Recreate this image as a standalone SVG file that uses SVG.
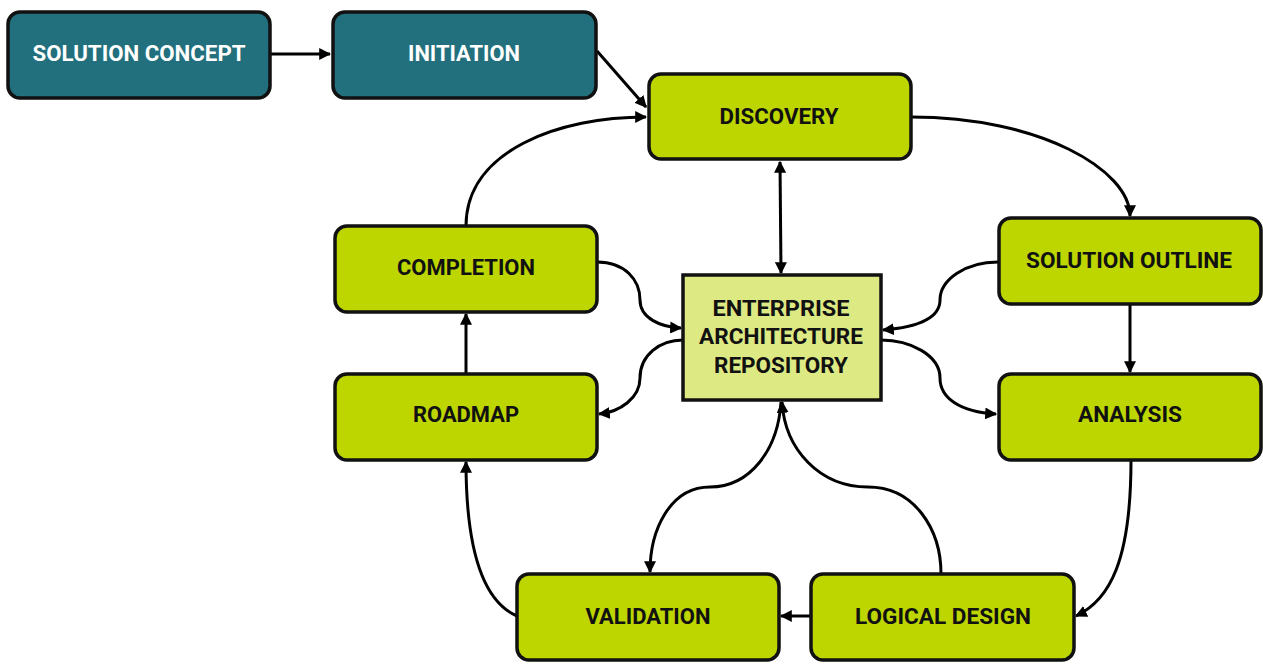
<svg xmlns="http://www.w3.org/2000/svg" width="1263" height="664" viewBox="0 0 1263 664">
<style>
.t{fill:#22707d;stroke:#111;stroke-width:3.5}
.g{fill:#bdd600;stroke:#111;stroke-width:3.5}
.r{fill:#dde982;stroke:#111;stroke-width:3.5}
text{font-family:Roboto,"Liberation Sans",sans-serif;font-weight:700;font-size:22.5px;text-anchor:middle;fill:#111}
.w{fill:#fff}
.c path{fill:none;stroke:#000;stroke-width:3}
</style>
<defs>
<marker id="a" viewBox="0 0 10 10" refX="9" refY="5" markerWidth="4" markerHeight="4" orient="auto-start-reverse"><path d="M0,0 L10,5 L0,10 z" fill="#000"/></marker>
</defs>
<g class="c">
<path d="M270,54 L330,54" marker-end="url(#a)"/>
<path d="M597,51 L646,107" marker-end="url(#a)"/>
<path d="M466,226 C466,150 560,117 646,117" marker-end="url(#a)"/>
<path d="M911,117 C1040,117 1130,170 1130,216" marker-end="url(#a)"/>
<path d="M780,162 L781,273" marker-start="url(#a)" marker-end="url(#a)"/>
<path d="M597,262 C625,262 640,280 640,300 C640,318 660,327 681,328" marker-end="url(#a)"/>
<path d="M683,340 C660,340 640,355 640,378 C640,398 620,412 599,414" marker-end="url(#a)"/>
<path d="M998,262 C965,262 940,280 940,300 C940,318 920,327 883,330" marker-end="url(#a)"/>
<path d="M881,340 C910,340 940,355 940,378 C940,398 960,412 996,414" marker-end="url(#a)"/>
<path d="M1130,304 L1130,372" marker-end="url(#a)"/>
<path d="M1131,460 C1131,560 1110,600 1076,616" marker-end="url(#a)"/>
<path d="M811,616 L781,616" marker-end="url(#a)"/>
<path d="M941,574 C941,530 915,487 868,487 C820,487 785,450 782,402" marker-end="url(#a)"/>
<path d="M781,402 C778,450 750,487 710,487 C670,487 650,530 650,572" marker-end="url(#a)"/>
<path d="M517,616 C480,600 466,540 466,462" marker-end="url(#a)"/>
<path d="M466,374 L466,314" marker-end="url(#a)"/>
</g>
<g id="solution-concept"><rect class="t" x="8" y="12" width="262" height="86" rx="12"/><text class="w" x="139" y="61" textLength="213" lengthAdjust="spacingAndGlyphs">SOLUTION CONCEPT</text></g>
<g id="initiation"><rect class="t" x="333" y="12" width="263" height="86" rx="12"/><text class="w" x="464" y="61" textLength="112" lengthAdjust="spacingAndGlyphs">INITIATION</text></g>
<g id="discovery"><rect class="g" x="649" y="74" width="262" height="85" rx="12"/><text x="779" y="124" textLength="119" lengthAdjust="spacingAndGlyphs">DISCOVERY</text></g>
<g id="solution-outline"><rect class="g" x="999" y="218" width="262" height="86" rx="12"/><text x="1129" y="268" textLength="206" lengthAdjust="spacingAndGlyphs">SOLUTION OUTLINE</text></g>
<g id="completion"><rect class="g" x="335" y="226" width="262" height="86" rx="12"/><text x="466" y="275" textLength="138" lengthAdjust="spacingAndGlyphs">COMPLETION</text></g>
<g id="repository"><rect class="r" x="683" y="275" width="198" height="125"/><text x="781" y="316" textLength="137" lengthAdjust="spacingAndGlyphs">ENTERPRISE</text><text x="781" y="344" textLength="164" lengthAdjust="spacingAndGlyphs">ARCHITECTURE</text><text x="781" y="373" textLength="134" lengthAdjust="spacingAndGlyphs">REPOSITORY</text></g>
<g id="roadmap"><rect class="g" x="335" y="374" width="262" height="86" rx="12"/><text x="466" y="422" textLength="106" lengthAdjust="spacingAndGlyphs">ROADMAP</text></g>
<g id="analysis"><rect class="g" x="999" y="374" width="262" height="86" rx="12"/><text x="1130" y="422" textLength="104" lengthAdjust="spacingAndGlyphs">ANALYSIS</text></g>
<g id="validation"><rect class="g" x="517" y="574" width="262" height="86" rx="12"/><text x="648" y="624" textLength="125" lengthAdjust="spacingAndGlyphs">VALIDATION</text></g>
<g id="logical-design"><rect class="g" x="811" y="574" width="263" height="86" rx="12"/><text x="943" y="624" textLength="176" lengthAdjust="spacingAndGlyphs">LOGICAL DESIGN</text></g>
</svg>
